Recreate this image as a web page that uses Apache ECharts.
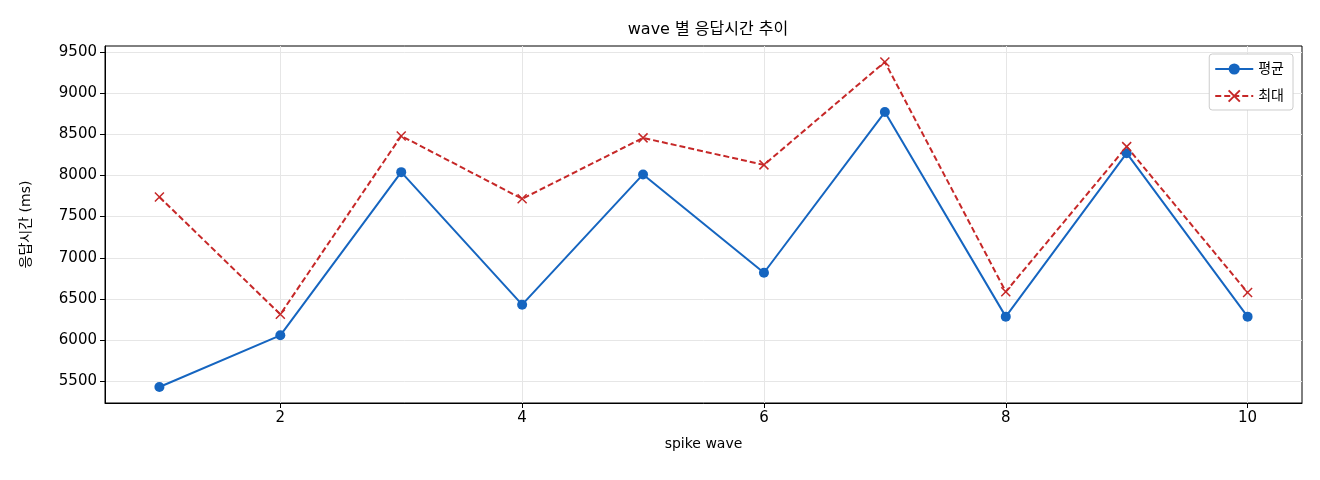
<!DOCTYPE html>
<html>
<head>
<meta charset="utf-8">
<script src="https://cdn.jsdelivr.net/npm/echarts@6/dist/echarts.min.js"></script>
<style>
  html, body { margin: 0; padding: 0; background: #fff; }
  #chart { width: 1320px; height: 480px; }
</style>
</head>
<body>
<div id="chart"></div>
<script>
// 데이터
var waves = [1, 2, 3, 4, 5, 6, 7, 8, 9, 10];
var avgMs = [5430, 6058, 8040, 6430, 8012, 6818, 8770, 6285, 8270, 6285];
var maxMs = [7738, 6313, 8480, 7716, 8456, 8128, 9378, 6588, 8350, 6578];
var xTicks = [2, 4, 6, 8, 10];
var yTicks = [5500, 6000, 6500, 7000, 7500, 8000, 8500, 9000, 9500];

var FONT = 'DejaVu Sans, Noto Sans CJK KR, sans-serif';
var BLUE = '#1565c0';
var RED = '#c62828';

function pairs(xs, ys) {
    return xs.map(function (x, i) { return [x, ys[i]]; });
}

var myChart = echarts.init(document.getElementById('chart'));

var option = {
    animation: false,
    backgroundColor: '#fff',
    title: {
        text: 'wave 별 응답시간 추이',
        left: 703, top: 17, textAlign: 'center',
        textStyle: { fontFamily: FONT, fontSize: 16, fontWeight: 'normal', color: '#000' }
    },
    legend: {
        right: 27, top: 54, orient: 'vertical',
        itemWidth: 38, itemHeight: 14, itemGap: 13,
        padding: [8, 9, 7, 5],
        borderColor: '#ccc', borderWidth: 1, borderRadius: 3,
        backgroundColor: '#fff',
        textStyle: { fontFamily: FONT, fontSize: 14, color: '#000' },
        data: ['평균', '최대']
    },
    grid: { left: 105, right: 18, top: 46, bottom: 77, show: true, borderColor: '#000', borderWidth: 1 },
    xAxis: {
        type: 'value', min: 0.55, max: 10.45,
        name: 'spike wave', nameLocation: 'middle', nameGap: 34,
        nameTextStyle: { fontFamily: FONT, fontSize: 14, color: '#000' },
        axisLine: { show: true, onZero: false, lineStyle: { color: '#000' } },
        axisTick: { show: true, length: 5, customValues: xTicks, lineStyle: { color: '#000' } },
        axisLabel: { customValues: xTicks, fontFamily: FONT, fontSize: 15, color: '#000', margin: 8 },
        splitLine: { show: true, lineStyle: { color: '#e6e6e6' } }
    },
    yAxis: {
        type: 'value', min: 5236, max: 9572,
        name: '응답시간 (ms)', nameLocation: 'middle', nameGap: 72, nameRotate: 90,
        nameTextStyle: { fontFamily: FONT, fontSize: 14, color: '#000' },
        axisLine: { show: true, lineStyle: { color: '#000' } },
        axisTick: { show: true, length: 5, customValues: yTicks, lineStyle: { color: '#000' } },
        axisLabel: {
            customValues: yTicks, fontFamily: FONT, fontSize: 15, color: '#000', margin: 8,
            formatter: function (v) { return String(v); }
        },
        splitLine: { show: true, lineStyle: { color: '#e6e6e6' } }
    },
    series: [
        {
            name: '평균', type: 'line', data: pairs(waves, avgMs),
            symbol: 'circle', symbolSize: 10,
            itemStyle: { color: BLUE },
            lineStyle: { color: BLUE, width: 2 }
        },
        {
            name: '최대', type: 'line', data: pairs(waves, maxMs),
            symbol: 'path://M0,0 L10,10 M10,0 L0,10', symbolSize: 9,
            itemStyle: { color: RED, borderColor: RED, borderWidth: 1.5 },
            lineStyle: { color: RED, width: 2, type: [6, 3] }
        }
    ]
};

myChart.setOption(option);
</script>
</body>
</html>
